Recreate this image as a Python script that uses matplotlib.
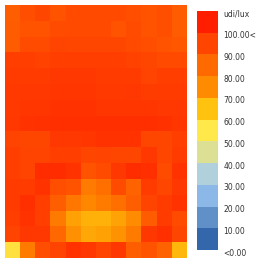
import numpy as np
import matplotlib
matplotlib.use("Agg")
import matplotlib.pyplot as plt
from matplotlib.colors import LinearSegmentedColormap, ListedColormap, BoundaryNorm, Normalize
import matplotlib.cm as cm
import matplotlib.transforms as mtransforms

# udi values per grid cell (rows top->bottom, 12 columns)
row_00 = [87.7, 92.0, 94.2, 90.7, 93.6, 93.6, 93.6, 93.6, 92.0, 90.9, 92.0, 88.8]
row_01 = [88.8, 90.9, 90.9, 93.1, 93.6, 93.6, 93.6, 90.9, 93.1, 90.9, 92.0, 88.8]
row_02 = [88.8, 93.1, 93.1, 95.0, 94.2, 94.2, 94.2, 94.2, 93.6, 92.0, 90.9, 89.9]
row_03 = [96.3, 96.3, 95.8, 96.3, 96.3, 96.3, 96.3, 96.3, 95.8, 94.2, 93.6, 93.6]
row_04 = [97.3, 97.3, 97.3, 98.3, 98.3, 98.3, 97.3, 97.3, 97.3, 95.3, 96.3, 96.3]
row_05 = [97.8, 98.3, 98.3, 98.8, 98.8, 98.8, 97.8, 97.8, 98.3, 96.8, 97.3, 97.3]
row_06 = [97.8, 98.8, 98.8, 99.4, 99.4, 99.4, 98.8, 98.8, 98.8, 98.8, 98.3, 98.3]
row_07 = [98.3, 99.4, 99.9, 100.4, 100.4, 100.4, 100.4, 100.4, 100.4, 100.4, 99.9, 98.8]
row_08 = [95.3, 94.2, 94.2, 98.3, 98.3, 98.8, 99.4, 99.4, 99.4, 94.2, 94.2, 96.3]
row_09 = [96.3, 95.3, 95.3, 96.3, 96.3, 94.2, 95.3, 94.2, 94.2, 98.3, 94.2, 97.3]
row_10 = [96.3, 95.3, 101.4, 101.4, 99.4, 90.9, 93.1, 98.3, 101.4, 100.4, 93.1, 99.4]
row_11 = [97.3, 97.3, 99.4, 92.0, 90.9, 80.3, 83.2, 93.1, 86.6, 97.3, 94.2, 98.3]
row_12 = [97.3, 100.4, 96.3, 87.7, 80.9, 76.2, 79.7, 83.2, 87.7, 95.3, 97.3, 99.4]
row_13 = [96.3, 99.4, 96.3, 80.3, 71.3, 68.3, 68.3, 70.6, 75.0, 88.8, 97.3, 93.1]
row_14 = [95.3, 98.3, 98.3, 85.5, 74.3, 69.8, 71.3, 73.5, 79.7, 98.3, 100.4, 94.2]
row_15 = [57.1, 79.7, 92.0, 95.3, 99.4, 98.3, 95.3, 98.3, 87.7, 90.9, 86.6, 66.9]

rows = [row_00, row_01, row_02, row_03, row_04, row_05, row_06, row_07,
        row_08, row_09, row_10, row_11, row_12, row_13, row_14, row_15]

# legend classes (low -> high)
bounds = [0, 10, 20, 30, 40, 50, 60, 70, 80, 90, 100, 110]
class_colors = ["#3366AA", "#6090C8", "#8CB8E8", "#B0D0DC", "#DCE094", "#FFE84A",
                "#FFC20E", "#FF8C00", "#FF6A00", "#FF4500", "#FF1E00"]
tick_labels = ["<0.00", "10.00", "20.00", "30.00", "40.00", "50.00",
               "60.00", "70.00", "80.00", "90.00", "100.00<", "udi/lux"]

vmin, vmax = bounds[0], bounds[-1]
stops = [(0.0, class_colors[0])]
for i, c in enumerate(class_colors):
    stops.append(((bounds[i] + bounds[i + 1]) / 2 / vmax, c))
stops.append((1.0, class_colors[-1]))
cont_cmap = LinearSegmentedColormap.from_list("udi", stops)

W, H = 259, 265
fig = plt.figure(figsize=(W / 100, H / 100), dpi=100)
fig.patch.set_facecolor("white")

ax = fig.add_axes([5 / W, (H - 258) / H, 182 / W, 253 / H])
ax.imshow(np.array(rows), cmap=cont_cmap, norm=Normalize(vmin, vmax),
          aspect="auto", interpolation="nearest")
ax.set_xticks([])
ax.set_yticks([])
for s in ax.spines.values():
    s.set_visible(False)

cax = fig.add_axes([197 / W, (H - 250) / H, 21 / W, 239 / H])
sm = cm.ScalarMappable(norm=BoundaryNorm(bounds, len(class_colors)),
                       cmap=ListedColormap(class_colors))
cb = fig.colorbar(sm, cax=cax, boundaries=bounds, ticks=bounds)
cb.outline.set_visible(False)
cb.ax.set_yticklabels(tick_labels)
cb.ax.tick_params(length=0, pad=4, labelsize=5.5, labelcolor="#333333")
offset = mtransforms.ScaledTranslation(0, -2 / 100, fig.dpi_scale_trans)
for lbl in cb.ax.get_yticklabels():
    lbl.set_transform(lbl.get_transform() + offset)

fig.savefig("out.png", dpi=100, facecolor="white")
